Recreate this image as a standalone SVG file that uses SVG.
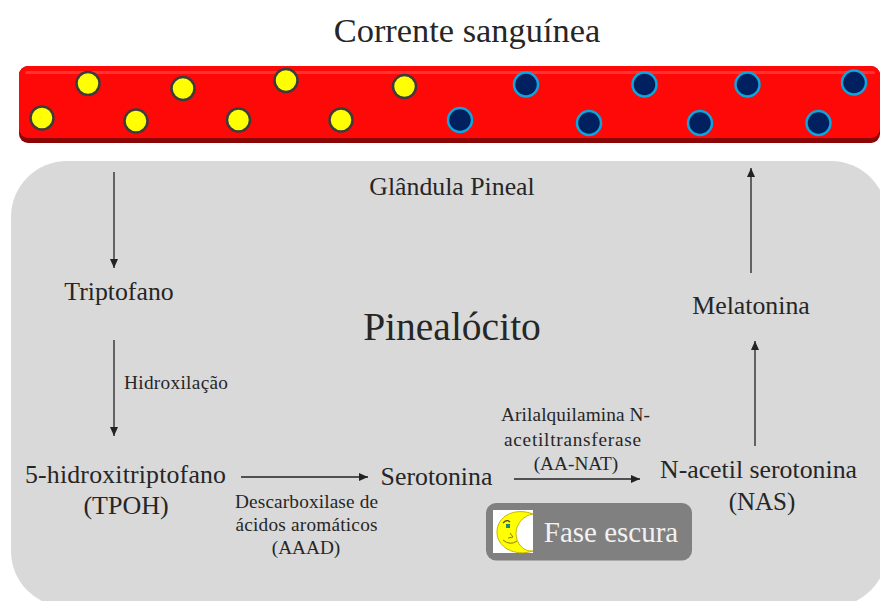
<svg xmlns="http://www.w3.org/2000/svg" width="880" height="601" viewBox="0 0 880 601">
<style>
text{font-family:"Liberation Serif","Times New Roman",serif;fill:#262626;text-anchor:middle}
.t22{font-size:25.800px}
.t16{font-size:19.300px}
.y{fill:#ffff00;stroke:#3c3c3c;stroke-width:2.5}
.b{fill:#002060;stroke:#0ea5dc;stroke-width:2.5}
.c{stroke:#222;stroke-width:1.3;fill:none;marker-end:url(#ah)}
</style>
<defs>
<marker id="ah" markerUnits="userSpaceOnUse" markerWidth="10" markerHeight="10" refX="9" refY="4" orient="auto"><path d="M0,0L9,4L0,8Z" fill="#222"/></marker>
</defs>
<rect width="880" height="601" fill="#fff"/>
<g id="pineal"><rect x="11" y="161" width="876" height="446" rx="56" fill="#d9d9d9"/></g>
<g id="blood">
<rect x="19" y="66" width="861" height="77" rx="9" fill="#8c0606"/>
<rect x="19" y="66" width="861" height="72" rx="9" fill="#ff0808"/>
<rect x="25" y="71" width="850" height="3" rx="1.500" fill="#ff5a5a" opacity="0.5"/>
<circle class="y" cx="88" cy="83.500" r="11.500"/><circle class="y" cx="183" cy="88.500" r="11.500"/><circle class="y" cx="286" cy="80.500" r="11.500"/><circle class="y" cx="404.500" cy="86.500" r="11.500"/>
<circle class="y" cx="42" cy="118" r="11.500"/><circle class="y" cx="136" cy="121" r="11.500"/><circle class="y" cx="238.500" cy="120" r="11.500"/><circle class="y" cx="341" cy="120" r="11.500"/>
<circle class="b" cx="526" cy="84.500" r="12"/><circle class="b" cx="644.500" cy="84.500" r="12"/><circle class="b" cx="747.500" cy="84.500" r="12"/><circle class="b" cx="854" cy="82.500" r="12"/>
<circle class="b" cx="460" cy="120" r="12"/><circle class="b" cx="589" cy="123" r="12"/><circle class="b" cx="700" cy="123" r="12"/><circle class="b" cx="818.500" cy="123" r="12"/>
</g>
<g id="connectors">
<path class="c" d="M114 172V268"/>
<path class="c" d="M114 340V436"/>
<path class="c" d="M241 477H368"/>
<path class="c" d="M514 479H640"/>
<path class="c" d="M755 446V341"/>
<path class="c" d="M751 273V168"/>
</g>
<g id="titulo"><text x="467" y="42" font-size="34.400">Corrente sanguínea</text></g>
<g id="glandula"><text x="452" y="195" class="t22">Glândula Pineal</text></g>
<g id="triptofano"><text x="119" y="300" class="t22">Triptofano</text></g>
<g id="pinealocito"><text x="452" y="340" font-size="39.500">Pinealócito</text></g>
<g id="melatonina"><text x="751" y="314" class="t22">Melatonina</text></g>
<g id="hidroxilacao"><text x="176" y="389" class="t16" textLength="104">Hidroxilação</text></g>
<g id="hidroxi"><text x="125.500" y="483" class="t22" textLength="201">5-hidroxitriptofano</text><text x="126" y="514" font-size="26">(TPOH)</text></g>
<g id="aaad"><text x="306.500" y="508" class="t16" textLength="143">Descarboxilase de</text><text x="306.500" y="531" class="t16" textLength="142">ácidos aromáticos</text><text x="306" y="554" class="t16">(AAAD)</text></g>
<g id="serotonina"><text x="436.500" y="485" class="t22">Serotonina</text></g>
<g id="aanat"><text x="575.500" y="421" class="t16" textLength="149">Arilalquilamina N-</text><text x="572.500" y="446" class="t16" textLength="137">acetiltransferase</text><text x="576" y="470" class="t16">(AA-NAT)</text></g>
<g id="nas"><text x="758.500" y="478" class="t22" textLength="197">N-acetil serotonina</text><text x="762" y="510" font-size="25">(NAS)</text></g>
<g id="fase">
<rect x="486" y="503" width="206" height="57.500" rx="10" fill="#808080"/>
<rect x="493" y="510" width="40" height="43" fill="#fff"/>
<path d="M533 514C515 507 497 516 497 532C497 547 514 557 533 551C524 552 516 544 516 533C516 524 524 515 533 514Z" fill="#ffff00" stroke="#c9b400" stroke-width="1"/>
<path d="M503 523Q507 519 510 522" fill="none" stroke="#5a3a10" stroke-width="1.200"/>
<path d="M506 524h4v4h-4z" fill="#1a8a70"/>
<path d="M510 533L513 537L508 538" fill="none" stroke="#8a7a10" stroke-width="1"/>
<path d="M503 540Q510 546 517 541" fill="none" stroke="#8a7a10" stroke-width="1"/>
<text x="611" y="542" font-size="29" style="fill:#f2f2f2">Fase escura</text>
</g>
</svg>
